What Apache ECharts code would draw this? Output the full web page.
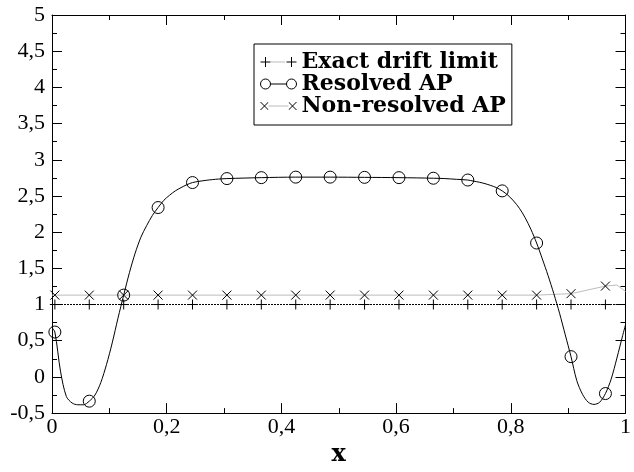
<!DOCTYPE html>
<html>
<head>
<meta charset="utf-8">
<script src="https://cdn.jsdelivr.net/npm/echarts@6/dist/echarts.min.js"></script>
<style>
html, body { margin: 0; padding: 0; background: #fff; }
#chart { width: 634px; height: 472px; }
</style>
</head>
<body>
<div id="chart"></div>
<script>
// x positions that carry a symbol on every curve
const markerX = [0.005, 0.065, 0.125, 0.185, 0.245, 0.305, 0.365, 0.425, 0.485,
                 0.545, 0.605, 0.665, 0.725, 0.785, 0.845, 0.905, 0.965];

// Exact drift limit
const exactX = [0, 0.005, 0.065, 0.125, 0.185, 0.245, 0.305, 0.365, 0.425, 0.485,
                0.545, 0.605, 0.665, 0.725, 0.785, 0.845, 0.905, 0.965, 1];
const exactY = [1, 1, 1, 1, 1, 1, 1, 1, 1, 1, 1, 1, 1, 1, 1, 1, 1, 1, 1];

// Resolved AP
const resolvedX = [0, 0.005, 0.015, 0.025, 0.035, 0.045, 0.055, 0.065, 0.075, 0.085,
                   0.095, 0.105, 0.115, 0.125, 0.135, 0.145, 0.155, 0.165, 0.175, 0.185,
                   0.195, 0.205, 0.215, 0.225, 0.235, 0.245, 0.255, 0.265, 0.275, 0.285,
                   0.295, 0.305, 0.365, 0.425, 0.485, 0.545, 0.605, 0.665, 0.685, 0.705,
                   0.725, 0.735, 0.745, 0.755, 0.765, 0.775, 0.785, 0.795, 0.805, 0.815,
                   0.825, 0.835, 0.845, 0.855, 0.865, 0.875, 0.885, 0.895, 0.905, 0.915,
                   0.925, 0.935, 0.945, 0.955, 0.965, 0.975, 0.985, 0.995, 1];
const resolvedY = [0.68, 0.62, 0.07, -0.27, -0.36, -0.385, -0.385, -0.335, -0.25, -0.08,
                   0.17, 0.47, 0.81, 1.13, 1.44, 1.71, 1.93, 2.09, 2.23, 2.34,
                   2.44, 2.51, 2.57, 2.615, 2.655, 2.685, 2.70, 2.712, 2.722, 2.73,
                   2.736, 2.74, 2.753, 2.76, 2.76, 2.757, 2.753, 2.745, 2.74, 2.73,
                   2.72, 2.705, 2.69, 2.67, 2.645, 2.615, 2.57, 2.51, 2.43, 2.33,
                   2.20, 2.04, 1.85, 1.63, 1.40, 1.15, 0.88, 0.58, 0.28, -0.05,
                   -0.24, -0.35, -0.38, -0.35, -0.23, -0.03, 0.26, 0.57, 0.72];

// Non-resolved AP
const nonResX = [0, 0.005, 0.065, 0.125, 0.185, 0.245, 0.305, 0.365, 0.425, 0.485,
                 0.545, 0.605, 0.665, 0.725, 0.785, 0.845, 0.905, 0.965, 0.985, 1];
const nonResY = [1.13, 1.13, 1.13, 1.13, 1.13, 1.13, 1.13, 1.13, 1.13, 1.13,
                 1.13, 1.13, 1.13, 1.13, 1.13, 1.13, 1.15, 1.255, 1.27, 1.18];

const seriesNames = ['Exact drift limit', 'Resolved AP', 'Non-resolved AP'];

const plusSymbol = 'path://M0,5L10,5M5,0L5,10';
const crossSymbol = 'path://M0,0L8,8M8,0L0,8';

// symbols only at the marked abscissae
function points(xs, ys) {
  return xs.map(function (x, i) {
    const item = { value: [x, ys[i]] };
    if (markerX.indexOf(x) < 0) item.symbol = 'none';
    return item;
  });
}

// legend icons: symbol - line - symbol
function endsStroke(a, b, mid) {
  return {
    type: 'linear', x: 0, y: 0, x2: 1, y2: 0,
    colorStops: [
      { offset: 0, color: '#000' }, { offset: a, color: '#000' },
      { offset: a, color: mid }, { offset: b, color: mid },
      { offset: b, color: '#000' }, { offset: 1, color: '#000' }
    ]
  };
}
let dots = '';
for (let d = 11; d < 25; d += 2) dots += 'M' + d + ',5L' + (d + 1) + ',5';
const exactIcon = 'path://M0,5L10,5M5,0L5,10M26,5L36,5M31,0L31,10' + dots;
const resolvedIcon = 'path://M0,5A5,5 0 1 1 10,5A5,5 0 1 1 0,5M10,5L26,5M26,5A5,5 0 1 1 36,5A5,5 0 1 1 26,5';
const nonResIcon = 'path://M0,1L8,9M8,1L0,9M28,1L36,9M36,1L28,9M8,5L28,5';

const serif = 'Liberation Serif';
const boldSerif = 'DejaVu Serif';

function fmt(v) {
  return String(Number(v.toFixed(2))).replace('.', ',');
}

const mirrorTick = { show: true, inside: true, length: 10, lineStyle: { color: '#000', width: 1 } };
const minorTick = { show: true, splitNumber: 2, length: 5, lineStyle: { color: '#000', width: 1 } };
const axisLine = { show: true, onZero: false, lineStyle: { color: '#000', width: 1 } };

const chart = echarts.init(document.getElementById('chart'), null, { renderer: 'canvas' });
chart.setOption({
  animation: false,
  backgroundColor: '#fff',
  grid: { left: 52, right: 1, top: 15, bottom: 49 },
  xAxis: [{
    type: 'value', min: 0, max: 1, interval: 0.2, position: 'bottom',
    axisLine: axisLine, axisTick: mirrorTick, minorTick: minorTick,
    splitLine: { show: false },
    axisLabel: { margin: 3, color: '#000', fontFamily: serif, fontSize: 22, formatter: fmt,
                 showMinLabel: true, showMaxLabel: true },
    name: 'x', nameLocation: 'middle', nameGap: 27,
    nameTextStyle: { color: '#000', fontFamily: boldSerif, fontWeight: 'bold', fontSize: 24 }
  }, {
    type: 'value', min: 0, max: 1, interval: 0.2, position: 'top',
    axisLine: axisLine, axisTick: mirrorTick, minorTick: minorTick,
    splitLine: { show: false }, axisLabel: { show: false }
  }],
  yAxis: [{
    type: 'value', min: -0.5, max: 5, interval: 0.5, position: 'left',
    axisLine: axisLine, axisTick: mirrorTick, minorTick: minorTick,
    splitLine: { show: false },
    axisLabel: { margin: 7, color: '#000', fontFamily: serif, fontSize: 22, formatter: fmt,
                 showMinLabel: true, showMaxLabel: true }
  }, {
    type: 'value', min: -0.5, max: 5, interval: 0.5, position: 'right',
    axisLine: axisLine, axisTick: mirrorTick, minorTick: minorTick,
    splitLine: { show: false }, axisLabel: { show: false }
  }],
  legend: {
    orient: 'vertical', left: 254, top: 44,
    itemWidth: 36, itemHeight: 10, itemGap: 0,
    padding: [7, 6, 8, 6],
    borderColor: '#000', borderWidth: 1, backgroundColor: '#fff',
    selectedMode: false,
    textStyle: { color: '#000', fontFamily: boldSerif, fontWeight: 'bold', fontSize: 22, lineHeight: 20 },
    data: [
      { name: seriesNames[0], icon: exactIcon,
        itemStyle: { color: 'rgba(0,0,0,0)', borderColor: endsStroke(11 / 36, 25 / 36, '#777'), borderWidth: 1 } },
      { name: seriesNames[1], icon: resolvedIcon,
        itemStyle: { color: 'rgba(0,0,0,0)', borderColor: '#000', borderWidth: 1 } },
      { name: seriesNames[2], icon: nonResIcon,
        itemStyle: { color: 'rgba(0,0,0,0)', borderColor: endsStroke(8 / 36, 28 / 36, '#bbb'), borderWidth: 1 } }
    ]
  },
  series: [{
    name: seriesNames[2], type: 'line',
    data: points(nonResX, nonResY),
    symbol: crossSymbol, symbolSize: 9,
    itemStyle: { color: 'rgba(0,0,0,0)', borderColor: '#000', borderWidth: 1 },
    lineStyle: { color: '#bdbdbd', width: 1 },
    emphasis: { disabled: true }, z: 2
  }, {
    name: seriesNames[0], type: 'line',
    data: points(exactX, exactY),
    symbol: plusSymbol, symbolSize: 10,
    itemStyle: { color: 'rgba(0,0,0,0)', borderColor: '#000', borderWidth: 1 },
    lineStyle: { color: '#000', width: 1, type: [2, 1] },
    emphasis: { disabled: true }, z: 3
  }, {
    name: seriesNames[1], type: 'line',
    data: points(resolvedX, resolvedY),
    symbol: 'circle', symbolSize: 12,
    smooth: 0.3,
    itemStyle: { color: 'rgba(0,0,0,0)', borderColor: '#000', borderWidth: 1 },
    lineStyle: { color: '#000', width: 1 },
    emphasis: { disabled: true }, z: 4
  }]
});
</script>
</body>
</html>
